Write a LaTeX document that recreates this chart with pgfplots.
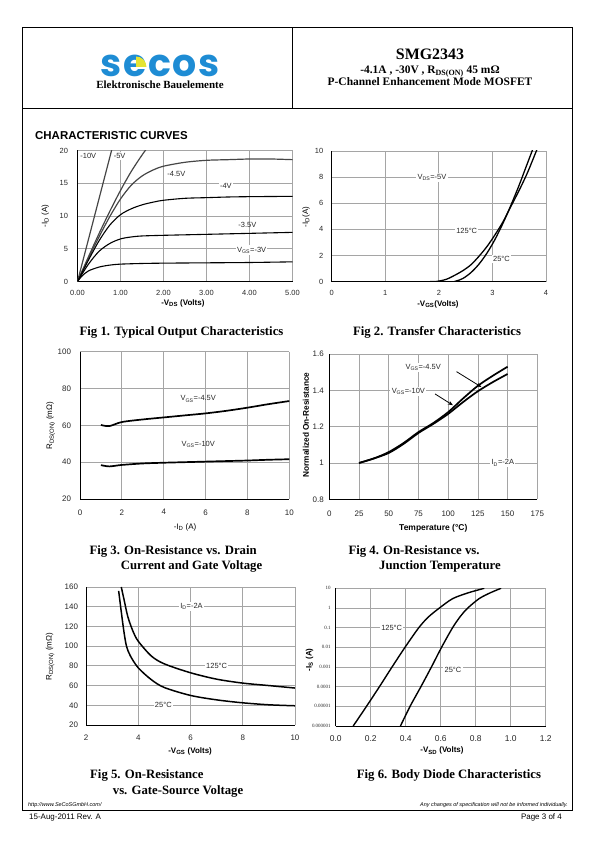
\documentclass[border=0pt]{standalone}
\usepackage{fontspec}
\setmainfont{Liberation Serif}
\setsansfont{Liberation Sans}
\newfontfamily\logofont{Poppins}
\usepackage{pgfplots}
\pgfplotsset{compat=1.18}
\usetikzlibrary{arrows.meta}
\definecolor{gridgray}{RGB}{165,165,165}
\definecolor{curvegray}{RGB}{70,70,70}
\definecolor{logoblue}{RGB}{30,140,212}
\definecolor{logoyellow}{RGB}{228,228,52}
\newcommand{\fs}[1]{\fontsize{#1}{#1}\selectfont}
\pgfplotsset{
  base/.style={
    scale only axis,
    anchor=south west,
    axis x line*=bottom,
    axis y line*=left,
    axis line style={black, line width=0.9pt},
    grid=major,
    major grid style={draw=gridgray, line width=0.75pt},
    major tick length=0pt,
    minor tick length=0pt,
    xminorticks=false, yminorticks=false,
    tick label style={font=\sffamily\fs{8}, text=black!85},
    /pgf/number format/assume math mode=true,
    xlabel style={font=\sffamily\bfseries\fs{8}, anchor=center},
    ylabel style={font=\sffamily\fs{8}, anchor=center},
  },
}
\tikzset{
  lab/.style={font=\sffamily\fs{7.5}, inner sep=1pt, text=black!85},
  wlab/.style={font=\sffamily\fs{7.5}, inner sep=1.3pt, fill=white, text=black!85},
}
\begin{document}
\begin{tikzpicture}
\useasboundingbox (0,0) rectangle (595bp,842bp);
% ---------- frame and header ----------
\draw[line width=1pt] (22.7bp,32bp) rectangle (572bp,814.7bp);
\draw[line width=1pt] (22.7bp,733.7bp) -- (572bp,733.7bp);
\draw[line width=1pt] (292.7bp,733.7bp) -- (292.7bp,814.7bp);
\node[anchor=base, inner sep=0, text depth=0pt, text=logoblue, font=\logofont\bfseries\fs{38}] at (160bp,765bp) {\addfontfeature{LetterSpace=4}secos};
\fill[logoyellow] (136bp,775bp) -- (146.5bp,775bp) arc (0:90:10.5bp) -- cycle;
\node[anchor=base, inner sep=0, font=\bfseries\fs{11}] at (160bp,753bp) {Elektronische Bauelemente};
\node[anchor=base, inner sep=0, font=\bfseries\fs{16}] at (430bp,782bp) {SMG2343};
\node[anchor=base, inner sep=0, font=\bfseries\fs{11.5}] at (430bp,768.7bp) {-4.1A , -30V , R\textsubscript{DS(ON)} 45 mΩ};
\node[anchor=base, inner sep=0, font=\bfseries\fs{11.5}] at (430bp,756.4bp) {P-Channel Enhancement Mode MOSFET};
\node[anchor=base west, inner sep=0, font=\sffamily\bfseries\fs{11.5}] at (35bp,702.7bp) {CHARACTERISTIC CURVES};
% ---------- captions ----------
\begin{scope}[every node/.style={inner sep=0, font=\bfseries\fs{12.8}}]
\node[anchor=base] at (181.5bp,506bp) {Fig 1. Typical Output Characteristics};
\node[anchor=base] at (437bp,506bp) {Fig 2. Transfer Characteristics};
\node[anchor=base west] at (89.3bp,287bp) {Fig 3. On-Resistance vs. Drain};
\node[anchor=base west] at (120.7bp,272bp) {Current and Gate Voltage};
\node[anchor=base west] at (348.3bp,287bp) {Fig 4. On-Resistance vs.};
\node[anchor=base west] at (379bp,272bp) {Junction Temperature};
\node[anchor=base west] at (90bp,63bp) {Fig 5. On-Resistance};
\node[anchor=base west] at (112.7bp,47bp) {vs. Gate-Source Voltage};
\node[anchor=base west] at (356.7bp,63bp) {Fig 6. Body Diode Characteristics};
\end{scope}
% ---------- footer ----------
\node[anchor=base west, inner sep=0, font=\sffamily\itshape\fs{5.5}] at (28bp,36bp) {http://www.SeCoSGmbH.com/};
\node[anchor=base east, inner sep=0, font=\sffamily\itshape\fs{5.5}] at (568bp,36bp) {Any changes of specification will not be informed individually.};
\node[anchor=base west, inner sep=0, font=\sffamily\fs{8}] at (29bp,23bp) {15-Aug-2011 Rev. A};
\node[anchor=base east, inner sep=0, font=\sffamily\fs{8}] at (562bp,23bp) {Page 3 of 4};

% ================= Fig 1 =================
\begin{axis}[base,
  at={(77.5bp,560.5bp)}, width=215bp, height=131bp,
  xmin=0, xmax=5, ymin=0, ymax=20,
  xtick={0,1,2,3,4,5}, ytick={0,5,10,15,20},
  tick label style={font=\sffamily\fs{7.5}},
  x tick label style={/pgf/number format/fixed, /pgf/number format/fixed zerofill, /pgf/number format/precision=2, yshift=-5bp},
  y tick label style={xshift=-6bp},
  xlabel={-V\textsubscript{DS} (Volts)},
  ylabel={-I\textsubscript{D} (A)},
  xlabel style={at={(axis description cs:0.49,-0.164)}},
  ylabel style={at={(axis description cs:-0.15,0.5)}},
]
\addplot[curvegray, line width=1.2pt] coordinates {(0,0) (0.4,10.1) (0.8,20.2)};
\addplot[curvegray, line width=1.2pt, smooth] coordinates {(0,0) (0.25,3.7) (0.5,7.3) (0.75,10.7) (1.0,13.9) (1.25,16.8) (1.5,19.3) (1.6,20.2)};
\addplot[curvegray, line width=1.2pt, smooth] coordinates {(0,0) (0.25,3.5) (0.5,6.8) (0.75,9.9) (1.0,12.6) (1.25,14.7) (1.5,16.1) (1.75,17.0) (2.0,17.6) (2.5,18.2) (3.0,18.5) (3.5,18.6) (4.0,18.7) (4.5,18.7) (5.0,18.6)};
\addplot[black, line width=1.1pt, smooth] coordinates {(0,0) (0.25,3.2) (0.5,6.2) (0.75,8.6) (1.0,10.2) (1.25,11.1) (1.5,11.7) (1.75,12.1) (2.0,12.4) (2.5,12.7) (3.0,12.8) (3.5,12.9) (4.0,12.95) (5.0,13.0)};
\addplot[black, line width=1.1pt, smooth] coordinates {(0,0) (0.25,2.6) (0.5,4.6) (0.75,5.8) (1.0,6.5) (1.25,6.8) (1.5,6.95) (2.0,7.05) (3.0,7.2) (4.0,7.35) (5.0,7.5)};
\addplot[black, line width=1.1pt, smooth] coordinates {(0,0) (0.1,0.8) (0.25,1.6) (0.5,2.2) (0.75,2.5) (1.0,2.65) (1.5,2.75) (2.0,2.8) (3.0,2.85) (4.0,2.9) (5.0,3.0)};
\node[lab] at (axis cs:0.25,19.2) {-10V};
\node[wlab] at (axis cs:0.98,19.1) {-5V};
\node[lab] at (axis cs:2.3,16.4) {-4.5V};
\node[wlab] at (axis cs:3.45,14.6) {-4V};
\node[lab] at (axis cs:3.95,8.6) {-3.5V};
\node[wlab] at (axis cs:4.05,4.8) {V\textsubscript{GS}=-3V};
\end{axis}

% ================= Fig 2 =================
\begin{axis}[base,
  at={(331.7bp,560.3bp)}, width=214.3bp, height=130.7bp,
  xmin=0, xmax=4, ymin=0, ymax=10,
  xtick={0,1,2,3,4}, ytick={0,2,4,6,8,10},
  tick label style={font=\sffamily\fs{7.5}},
  x tick label style={yshift=-5bp},
  y tick label style={xshift=-5bp},
  xlabel={-V\textsubscript{GS}(Volts)},
  ylabel={-I\textsubscript{D}(A)},
  xlabel style={at={(axis description cs:0.496,-0.171)}},
  ylabel style={at={(axis description cs:-0.12,0.495)}},
]
\addplot[black, line width=1.3pt, smooth] coordinates {(0.15,0) (1.75,0) (2.0,0.05) (2.15,0.2) (2.3,0.5) (2.45,0.85) (2.6,1.3) (2.75,1.95) (2.9,2.7) (3.05,3.6) (3.2,4.6) (3.35,5.8) (3.5,7.0) (3.65,8.3) (3.8,9.8) (3.83,10.1)};
\addplot[black, line width=1.3pt, smooth] coordinates {(0.15,0) (2.2,0) (2.32,0.05) (2.45,0.25) (2.6,0.7) (2.75,1.35) (2.9,2.2) (3.05,3.25) (3.2,4.5) (3.35,5.9) (3.5,7.4) (3.62,8.7) (3.75,10.1)};
\node[wlab] at (axis cs:1.87,8.0) {V\textsubscript{DS}=-5V};
\node[wlab] at (axis cs:2.52,3.9) {125°C};
\node[wlab] at (axis cs:3.17,1.75) {25°C};
\end{axis}

% ================= Fig 3 =================
\begin{axis}[base,
  at={(80bp,343bp)}, width=209.3bp, height=147.3bp,
  xmin=0, xmax=10, ymin=20, ymax=100,
  xtick={0,2,4,6,8,10}, ytick={20,40,60,80,100},
  x tick label style={yshift=-7bp},
  y tick label style={xshift=-5.5bp},
  xlabel={-I\textsubscript{D} (A)},
  ylabel={R\textsubscript{DS(ON)} (mΩ)},
  xlabel style={font=\sffamily\fs{8}, at={(axis description cs:0.502,-0.19)}},
  ylabel style={at={(axis description cs:-0.14,0.498)}},
]
\addplot[black, line width=1.7pt, smooth] coordinates {(1,60.2) (1.4,59.6) (2,61.8) (3,63.2) (4,64.3) (5,65.4) (6,66.5) (7,67.9) (8,69.6) (9,71.5) (10,73.2)};
\addplot[black, line width=1.7pt, smooth] coordinates {(1,38.4) (1.4,37.7) (2,38.5) (3,39.3) (4,39.7) (5,40.0) (6,40.3) (7,40.6) (8,40.9) (9,41.3) (10,41.6)};
\node[lab] at (axis cs:5.65,74.3) {V\textsubscript{GS}=-4.5V};
\node[lab] at (axis cs:5.65,49.8) {V\textsubscript{GS}=-10V};
\end{axis}

% ================= Fig 4 =================
\begin{axis}[base,
  at={(329.3bp,342.7bp)}, width=208bp, height=145.3bp,
  xmin=0, xmax=175, ymin=0.8, ymax=1.6,
  xtick={0,25,50,75,100,125,150,175}, ytick={0.8,1,1.2,1.4,1.6},
  x tick label style={yshift=-8bp},
  y tick label style={xshift=-2bp},
  xlabel={Temperature (°C)},
  ylabel={Normalized On-Resistance},
  xlabel style={font=\sffamily\bfseries\fs{8.5}, at={(axis description cs:0.5,-0.198)}},
  ylabel style={font=\sffamily\bfseries\fs{8.3}, at={(axis description cs:-0.112,0.511)}},
]
\addplot[black, line width=1.7pt, smooth] coordinates {(25,1.0) (37.5,1.025) (50,1.06) (62.5,1.11) (75,1.17) (87.5,1.22) (100,1.28) (112.5,1.355) (125,1.425) (137.5,1.48) (150,1.53)};
\addplot[black, line width=1.7pt, smooth] coordinates {(25,1.0) (37.5,1.025) (50,1.055) (62.5,1.105) (75,1.165) (87.5,1.215) (100,1.27) (112.5,1.335) (125,1.395) (137.5,1.445) (150,1.49)};
\node[wlab] at (axis cs:79,1.527) {V\textsubscript{GS}=-4.5V};
\draw[-{Stealth[length=5pt,width=4pt]}, line width=0.8pt] (axis cs:107,1.503) -- (axis cs:128,1.418);
\node[wlab] at (axis cs:66.5,1.393) {V\textsubscript{GS}=-10V};
\draw[-{Stealth[length=5pt,width=4pt]}, line width=0.8pt] (axis cs:89,1.38) -- (axis cs:104,1.318);
\node[wlab] at (axis cs:146,1.0) {I\textsubscript{D}=-2A};
\end{axis}

% ================= Fig 5 =================
\begin{axis}[base,
  at={(86bp,117bp)}, width=209bp, height=138bp,
  xmin=2, xmax=10, ymin=20, ymax=160,
  xtick={2,4,6,8,10}, ytick={20,40,60,80,100,120,140,160},
  x tick label style={yshift=-6bp},
  y tick label style={xshift=-4.5bp},
  xlabel={-V\textsubscript{GS} (Volts)},
  ylabel={R\textsubscript{DS(ON)} (mΩ)},
  xlabel style={at={(axis description cs:0.498,-0.19)}},
  ylabel style={at={(axis description cs:-0.172,0.495)}},
]
\addplot[black, line width=1.5pt, smooth] coordinates {(3.25,156) (3.35,135) (3.45,115) (3.55,100) (3.7,90) (4,78) (4.5,66) (5,58) (6,50) (7,45.5) (8,42.5) (9,40.5) (10,39.5)};
\addplot[black, line width=1.5pt, smooth] coordinates {(3.35,160) (3.45,148) (3.6,130) (3.8,115) (4,105) (4.5,90) (5,82) (6,73) (7,66.5) (8,62.5) (9,60) (10,57.5)};
\node[wlab] at (axis cs:6.04,140) {I\textsubscript{D}=-2A};
\node[wlab] at (axis cs:7.0,80) {125°C};
\node[wlab] at (axis cs:4.96,40) {25°C};
\end{axis}

% ================= Fig 6 =================
\begin{axis}[base,
  at={(335.7bp,116bp)}, width=210bp, height=137.7bp,
  xmin=0, xmax=1.2, ymode=log, ymin=1e-6, ymax=10,
  xtick={0,0.2,0.4,0.6,0.8,1.0,1.2},
  ytick={1e-6,1e-5,1e-4,1e-3,1e-2,1e-1,1,10},
  yticklabels={0.000001,0.00001,0.0001,0.001,0.01,0.1,1,10},
  x tick label style={/pgf/number format/fixed, /pgf/number format/fixed zerofill, /pgf/number format/precision=1, yshift=-6bp, font=\sffamily\fs{8.5}},
  y tick label style={xshift=-1.5bp, font=\rmfamily\fs{5}},
  xlabel={-V\textsubscript{SD} (Volts)},
  ylabel={-I\textsubscript{S} (A)},
  xlabel style={at={(axis description cs:0.506,-0.18)}},
  ylabel style={font=\sffamily\bfseries\fs{8}, at={(axis description cs:-0.125,0.48)}},
]
\addplot[black, line width=1.4pt, smooth] coordinates {(0.10,1e-6) (0.176,1e-5) (0.25,1e-4) (0.322,1e-3) (0.396,1e-2) (0.475,0.1) (0.53,0.35) (0.593,1) (0.669,3) (0.76,6) (0.849,10)};
\addplot[black, line width=1.4pt, smooth] coordinates {(0.37,1e-6) (0.425,1e-5) (0.487,1e-4) (0.547,1e-3) (0.605,1e-2) (0.668,0.1) (0.715,0.4) (0.755,1) (0.82,3) (0.885,6) (0.945,10)};
\node[wlab] at (axis cs:0.32,0.1) {125°C};
\node[wlab] at (axis cs:0.67,0.0007) {25°C};
\end{axis}
\end{tikzpicture}
\end{document}
